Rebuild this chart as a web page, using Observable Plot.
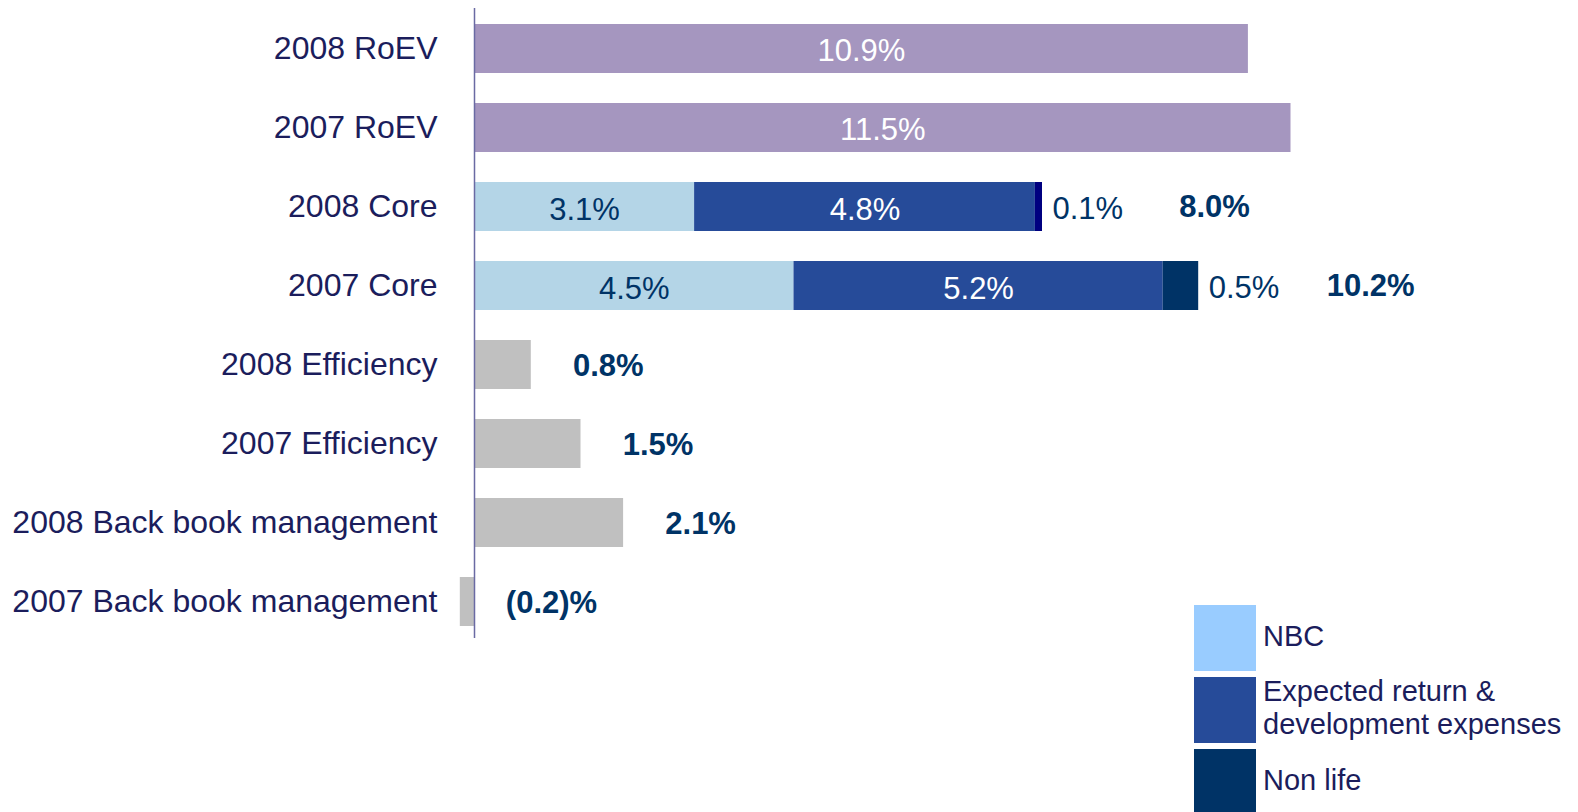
<!DOCTYPE html>
<html>
<head>
<meta charset="utf-8">
<script src="https://cdn.jsdelivr.net/npm/d3@7"></script>
<script src="https://cdn.jsdelivr.net/npm/@observablehq/plot@0.6"></script>
<style>
  html, body { margin: 0; padding: 0; background: #fff; }
  #wrap { position: relative; width: 1578px; height: 812px; overflow: hidden; font-family: "Liberation Sans", Arial, sans-serif; }
  #legend { position: absolute; left: 1194px; top: 605px; }
  .item { display: flex; align-items: center; height: 66px; margin-bottom: 6px; }
  .sw { width: 62px; height: 66px; flex: none; }
  .lab { margin-left: 7px; font-size: 29px; line-height: 33px; color: #1b1d5c; position: relative; top: -2px; }
</style>
</head>
<body>
<div id="wrap"><div id="chart"></div><div id="legend"></div></div>
<script>
// ---- data ----
const categories = ["2008 RoEV", "2007 RoEV", "2008 Core", "2007 Core",
  "2008 Efficiency", "2007 Efficiency", "2008 Back book management", "2007 Back book management"];
const roevCats = ["2008 RoEV", "2007 RoEV"];
const roevValues = [10.9, 11.5];
const coreCats = ["2008 Core", "2007 Core"];
const coreNBC = [3.1, 4.5];
const coreExpected = [4.8, 5.2];
const coreNonLife = [0.1, 0.5];
const coreTotal = [8.0, 10.2];
const otherCats = ["2008 Efficiency", "2007 Efficiency", "2008 Back book management", "2007 Back book management"];
const otherValues = [0.8, 1.5, 2.1, -0.2];
const seriesNames = ["NBC", "Expected return & development expenses", "Non life"];
const legendLabels = ["NBC", "Expected return &<br>development expenses", "Non life"];

// ---- styles ----
const purple = "#A596BF", lightBlue = "#B4D5E7", midBlue = "#264B99", nonLife = "#003366", nonLife08 = "#000080", grey = "#C0C0C0";
const legendColors = ["#99CCFF", "#264B99", "#003366"];
const navy = "#1b1d5c", dark = "#003366";

const fmt = v => v < 0 ? `(${(-v).toFixed(1)})%` : `${v.toFixed(1)}%`;

// ---- tables ----
const bars = [];
roevCats.forEach((c, i) => bars.push({cat: c, series: "RoEV", value: roevValues[i]}));
coreCats.forEach((c, i) => {
  bars.push({cat: c, series: seriesNames[0], value: coreNBC[i]});
  bars.push({cat: c, series: seriesNames[1], value: coreExpected[i]});
  bars.push({cat: c, series: seriesNames[2], value: coreNonLife[i]});
});
otherCats.forEach((c, i) => bars.push({cat: c, series: "Other", value: otherValues[i]}));

function fillOf(d) {
  if (d.series === "RoEV") return purple;
  if (d.series === seriesNames[0]) return lightBlue;
  if (d.series === seriesNames[1]) return midBlue;
  if (d.series === seriesNames[2]) return d.cat === "2008 Core" ? nonLife08 : nonLife;
  return grey;
}

const nonLifeLabels = coreCats.map((c, i) => ({cat: c, end: coreNBC[i] + coreExpected[i] + coreNonLife[i], value: coreNonLife[i]}));
const totals = coreCats.map((c, i) => ({cat: c, end: coreNBC[i] + coreExpected[i] + coreNonLife[i], value: coreTotal[i]}));
const others = otherCats.map((c, i) => ({cat: c, value: otherValues[i]}));

const font = "Liberation Sans, Arial, sans-serif";

const chart = Plot.plot({
  width: 1578,
  height: 812,
  marginLeft: 474,
  marginRight: 0,
  marginTop: 8,
  marginBottom: 174,
  style: {fontFamily: font, color: navy, background: "transparent"},
  x: {domain: [0, 10], range: [474, 1184], axis: null},
  y: {domain: categories, range: [9, 641], paddingInner: 0.38, paddingOuter: 0.19, axis: null},
  color: {type: "identity"},
  marks: [
    Plot.barX(bars, Plot.stackX({x: "value", y: "cat", fill: fillOf, order: null})),
    Plot.ruleX([0], {stroke: "#6a6aa3", strokeWidth: 1.5}),
    Plot.axisY({tickSize: 0, tickPadding: 37, fontSize: 32, fill: navy, label: null}),
    // RoEV labels
    Plot.text(bars.filter(d => d.series === "RoEV"), {x: d => d.value / 2, y: "cat", text: d => fmt(d.value), fill: "white", fontSize: 31, dy: 2}),
    // core segment labels
    Plot.text(bars.filter(d => d.series === seriesNames[0] || d.series === seriesNames[1]),
      Plot.stackX({x: "value", y: "cat", z: "cat", order: null, text: d => fmt(d.value),
        fill: d => d.series === seriesNames[0] ? dark : "white", fontSize: 31, dy: 3})),
    Plot.text(nonLifeLabels, {x: "end", y: "cat", text: d => fmt(d.value), textAnchor: "start", dx: 10, fill: dark, fontSize: 31, dy: 2}),
    Plot.text(totals, {x: "end", y: "cat", text: d => fmt(d.value), textAnchor: "middle", dx: 172, fill: dark, fontSize: 31, fontWeight: "bold"}),
    Plot.text(others, {x: d => Math.max(d.value, 0), y: "cat", text: d => fmt(d.value), textAnchor: "middle", dx: 77, fill: dark, fontSize: 31, fontWeight: "bold", dy: 1})
  ]
});
document.getElementById("chart").appendChild(chart);

const legend = document.getElementById("legend");
legendLabels.forEach((t, i) => {
  const item = document.createElement("div");
  item.className = "item";
  item.innerHTML = `<div class="sw" style="background:${legendColors[i]}"></div><div class="lab">${t}</div>`;
  legend.appendChild(item);
});
</script>
</body>
</html>
